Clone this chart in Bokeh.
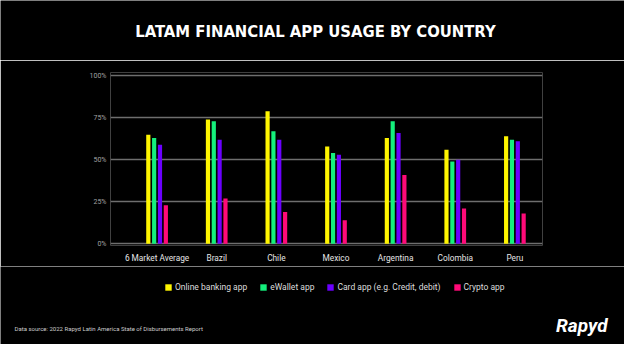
from bokeh.plotting import figure
from bokeh.layouts import column
from bokeh.models import (ColumnDataSource, Range1d, FixedTicker, Legend, LegendItem,
                          Label, CustomJSTickFormatter)
from bokeh.transform import dodge
from bokeh.embed import file_html
from bokeh.resources import INLINE

countries = ["6 Market Average", "Brazil", "Chile", "Mexico", "Argentina", "Colombia", "Peru"]
online_banking = [65, 74, 79, 58, 63, 56, 64]
ewallet = [63, 73, 67, 54, 73, 49, 62]
card_app = [59, 62, 62, 53, 66, 50, 61]
crypto_app = [23, 27, 19, 14, 41, 21, 18]
series_names = ["Online banking app", "eWallet app", "Card app (e.g. Credit, debit)", "Crypto app"]
series_colors = ["#FFF500", "#14F07C", "#6B00FF", "#FF0A78"]
y_ticks = [0, 25, 50, 75, 100]

title_text = "LATAM FINANCIAL APP USAGE BY COUNTRY"
source_text = "Data source: 2022 Rapyd Latin America State of Disbursements Report"
logo_text = "Rapyd"

FONT = "Roboto"
W = 624

src = ColumnDataSource(data=dict(
    x=list(range(len(countries))),
    online=online_banking, ewallet=ewallet, card=card_app, crypto=crypto_app,
))
cols = ["online", "ewallet", "card", "crypto"]


def blank(height):
    f = figure(frame_width=W, frame_height=height, output_backend="svg", toolbar_location=None,
               x_range=Range1d(0, W), y_range=Range1d(0, height),
               x_axis_type=None, y_axis_type=None, title=None, frame_align=False,
               min_border=0, min_border_left=0, min_border_right=0,
               min_border_top=0, min_border_bottom=0)
    f.background_fill_color = "#000000"
    f.border_fill_color = "#000000"
    f.outline_line_color = None
    f.xgrid.visible = False
    f.ygrid.visible = False
    return f


# ---------- header ----------
head = blank(60)
head.add_layout(Label(x=315, y=29, x_units="screen", y_units="screen", text=title_text,
                      text_align="center", text_baseline="middle", text_color="#FFFFFF",
                      text_font="DejaVu Sans Condensed", text_font_style="bold",
                      text_font_size="16.5px"))

# ---------- main chart ----------
p = figure(width=W, height=206, output_backend="svg", toolbar_location=None, title=None,
           x_range=Range1d(-0.781, 6.463), y_range=Range1d(-1, 102),
           min_border_left=110, min_border_right=82, min_border_top=12, min_border_bottom=21)
p.background_fill_color = "#000000"
p.border_fill_color = "#000000"
p.outline_line_color = None

offsets = [-0.147, -0.049, 0.049, 0.147]
for c, off, col in zip(cols, offsets, series_colors):
    p.vbar(x=dodge("x", off), top=c, bottom=0, width=0.07, source=src,
           fill_color=col, line_color=None)

p.xaxis.ticker = FixedTicker(ticks=list(range(len(countries))))
p.xaxis.major_label_overrides = {i: n for i, n in enumerate(countries)}
p.xaxis.axis_line_color = None
p.xaxis.major_tick_line_color = None
p.xaxis.minor_tick_line_color = None
p.xaxis.major_tick_out = 0
p.xaxis.major_label_standoff = 7
p.xaxis.major_label_text_color = "#E6E6E6"
p.xaxis.major_label_text_font = FONT
p.xaxis.major_label_text_font_size = "8.3px"

p.yaxis.ticker = FixedTicker(ticks=y_ticks)
p.yaxis.formatter = CustomJSTickFormatter(code="return tick + '%';")
p.yaxis.axis_line_color = None
p.yaxis.major_tick_line_color = None
p.yaxis.minor_tick_line_color = None
p.yaxis.major_tick_out = 0
p.yaxis.major_label_standoff = 4
p.yaxis.major_label_text_color = "#A0A0A0"
p.yaxis.major_label_text_font = FONT
p.yaxis.major_label_text_font_size = "7px"

p.xgrid.visible = False
p.ygrid.ticker = FixedTicker(ticks=y_ticks)
p.ygrid.grid_line_color = "#6E6E6E"
p.ygrid.grid_line_width = 1.5

# ---------- footer: legend, source, logo ----------
foot = blank(78)
swatches = []
for c, col in zip(cols, series_colors):
    swatches.append(foot.vbar(x="x", top=c, width=1, source=src, fill_color=col,
                              line_color=None, visible=False))

legend = Legend(items=[LegendItem(label=n, renderers=[r]) for n, r in zip(series_names, swatches)],
                location=(164, 52), orientation="horizontal",
                glyph_width=8, glyph_height=8, label_height=10, label_standoff=3,
                spacing=12, padding=0, margin=0,
                inactive_fill_alpha=0,
                label_text_color="#DDDDDD", label_text_font=FONT, label_text_font_size="8.5px",
                background_fill_alpha=0, border_line_color=None)
foot.add_layout(legend)

foot.add_layout(Label(x=14, y=16, x_units="screen", y_units="screen", text=source_text,
                      text_align="left", text_baseline="middle", text_color="#CCCCCC",
                      text_font=FONT, text_font_size="6px"))
foot.add_layout(Label(x=607, y=19, x_units="screen", y_units="screen", text=logo_text,
                      text_align="right", text_baseline="alphabetic", text_color="#FFFFFF",
                      text_font=FONT, text_font_style="bold italic", text_font_size="19px"))

layout = column(head, p, foot, spacing=0)
open("out.html", "w").write(file_html(layout, INLINE))
